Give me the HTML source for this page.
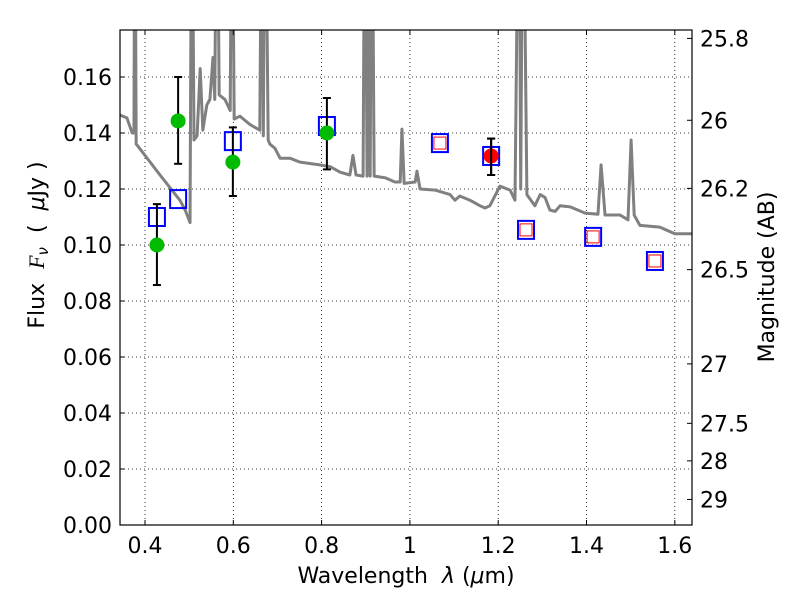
<!DOCTYPE html>
<html><head><meta charset="utf-8"><style>
body{margin:0;background:#fff;}
svg text{font-family:"DejaVu Sans","Liberation Sans",sans-serif;font-size:22px;fill:#000;}
</style></head><body>
<svg id="chart" width="800" height="600" viewBox="0 0 800 600" xmlns="http://www.w3.org/2000/svg">
<rect width="800" height="600" fill="#fff"/>
<g id="grid"></g>
<g id="spec"></g>
<g id="marks"></g>
<rect x="120" y="30" width="572" height="495" fill="none" stroke="#000" stroke-width="1.2"/>
<g id="axes"></g>
<text x="406" y="583" text-anchor="middle">Wavelength&#160;&#160;<tspan font-style="italic">λ</tspan>&#160;(<tspan font-style="italic">μ</tspan>m)</text>
<text transform="translate(44,245) rotate(-90)" text-anchor="middle">Flux&#160;&#160;<tspan font-style="italic" font-family="Liberation Serif">F</tspan><tspan font-style="italic" font-size="15" dy="4">ν</tspan><tspan dy="-4">&#160;&#160;(&#160;&#160;</tspan><tspan font-style="italic">μ</tspan>Jy&#160;)</text>
<text transform="translate(774,277) rotate(-90)" text-anchor="middle">Magnitude (AB)</text>
</svg>
<script>
const NS="http://www.w3.org/2000/svg";
const xTicks=[0.4,0.6,0.8,1.0,1.2,1.4,1.6];
const xTickLabels=["0.4","0.6","0.8","1","1.2","1.4","1.6"];
const yTicks=[0,0.02,0.04,0.06,0.08,0.10,0.12,0.14,0.16];
const yTickLabels=["0.00","0.02","0.04","0.06","0.08","0.10","0.12","0.14","0.16"];
const magTicks=[25.8,26,26.2,26.5,27,27.5,28,29];
const magTickLabels=["25.8","26","26.2","26.5","27","27.5","28","29"];
const specWl=[0.343,0.359,0.371,0.375,0.377,0.380,0.382,0.434,0.479,0.491,0.502,0.506,0.511,0.518,0.525,0.531,0.540,0.547,0.554,0.558,0.563,0.568,0.581,0.593,0.597,0.602,0.615,0.638,0.660,0.665,0.668,0.672,0.679,0.683,0.694,0.706,0.728,0.751,0.796,0.819,0.842,0.864,0.871,0.878,0.894,0.898,0.903,0.905,0.910,0.914,0.919,0.944,0.966,0.978,0.982,0.987,1.012,1.016,1.023,1.057,1.091,1.102,1.113,1.136,1.159,1.170,1.181,1.204,1.227,1.238,1.247,1.251,1.256,1.265,1.283,1.295,1.306,1.317,1.329,1.340,1.363,1.397,1.426,1.433,1.442,1.476,1.494,1.501,1.508,1.521,1.566,1.600,1.639];
const specFlux=[0.1464,0.1454,0.140,0.140,0.25,0.136,0.1357,0.125,0.116,0.1125,0.108,0.25,0.1375,0.139,0.163,0.141,0.150,0.152,0.167,0.152,0.25,0.1536,0.152,0.148,0.25,0.145,0.146,0.143,0.141,0.25,0.139,0.25,0.1375,0.136,0.1346,0.131,0.131,0.1296,0.1286,0.128,0.126,0.125,0.132,0.125,0.1246,0.25,0.1246,0.25,0.1246,0.25,0.1246,0.124,0.1225,0.1225,0.1414,0.122,0.1225,0.1264,0.120,0.1196,0.118,0.116,0.1175,0.116,0.114,0.1132,0.114,0.121,0.1196,0.116,0.25,0.12,0.25,0.118,0.114,0.118,0.117,0.1125,0.112,0.114,0.1136,0.1114,0.111,0.1286,0.1107,0.1107,0.109,0.1375,0.1107,0.107,0.1064,0.104,0.104];
const greenWl=[0.427,0.475,0.599,0.812];
const greenFlux=[0.100,0.1443,0.1296,0.140];
const greenHi=[0.1146,0.160,0.142,0.1525];
const greenLo=[0.0857,0.129,0.1175,0.127];
const redWl=[1.184];
const redFlux=[0.1318];
const redHi=[0.138];
const redLo=[0.125];
const blueSqWl=[0.427,0.475,0.599,0.812,1.068,1.184,1.263,1.415,1.555];
const blueSqFlux=[0.1100,0.1164,0.1371,0.1425,0.1364,0.1318,0.1054,0.1029,0.0943];
const redSqWl=[1.068,1.263,1.415,1.555];
const redSqFlux=[0.1364,0.1054,0.1029,0.0943];

const X0=120,X1=692,Y0=30,Y1=525;
function xs(v){return 145+(v-0.4)*441.5;}
function ys(v){return 525-v*2800;}
function magToFlux(m){return Math.pow(10,(23.9-m)/2.5);}
function mk(tag,attrs,parent){const e=document.createElementNS(NS,tag);for(const k in attrs)e.setAttribute(k,attrs[k]);parent.appendChild(e);return e;}
const grid=document.getElementById('grid'),axes=document.getElementById('axes'),spec=document.getElementById('spec'),marks=document.getElementById('marks');
xTicks.forEach((t,i)=>{const x=xs(t);
 const g=mk('line',{x1:x,x2:x,y1:Y0,y2:Y1,stroke:'#000','stroke-width':0.8,'stroke-dasharray':'1,3'},grid);
 
 
 mk('line',{x1:x,x2:x,y1:Y1,y2:Y1-5,stroke:'#000'},axes);
 mk('line',{x1:x,x2:x,y1:Y0,y2:Y0+5,stroke:'#000'},axes);
 const tx=mk('text',{x:x,y:Y1+28,'text-anchor':'middle'},axes);tx.textContent=xTickLabels[i];
 
 
});
yTicks.forEach((t,i)=>{const y=ys(t);
 const g=mk('line',{x1:X0,x2:X1,y1:y,y2:y,stroke:'#000','stroke-width':0.8,'stroke-dasharray':'1,3'},grid);
 
 
 mk('line',{x1:X0,x2:X0+5,y1:y,y2:y,stroke:'#000'},axes);
 const tx=mk('text',{x:X0-8,y:y+8,'text-anchor':'end'},axes);tx.textContent=yTickLabels[i];
 
 
});
magTicks.forEach((m,i)=>{const y=ys(magToFlux(m));
 mk('line',{x1:X1,x2:X1-5,y1:y,y2:y,stroke:'#000'},axes);
 const tx=mk('text',{x:X1+8,y:y+8,'text-anchor':'start'},axes);tx.textContent=magTickLabels[i];
 
 
});
const cp=mk('clipPath',{id:'clip'},document.getElementById('chart'));
mk('rect',{x:X0,y:Y0,width:X1-X0,height:Y1-Y0},cp);
spec.setAttribute('clip-path','url(#clip)');
const pl=mk('polyline',{points:specWl.map((w,i)=>xs(w)+','+ys(specFlux[i])).join(' '),fill:'none',stroke:'#808080','stroke-width':3,'stroke-linejoin':'round'},spec);


function errbar(w,lo,hi){const x=xs(w);
 mk('line',{x1:x,x2:x,y1:ys(hi),y2:ys(lo),stroke:'#000','stroke-width':2},marks);
 mk('line',{x1:x-4,x2:x+4,y1:ys(hi),y2:ys(hi),stroke:'#000','stroke-width':2},marks);
 mk('line',{x1:x-4,x2:x+4,y1:ys(lo),y2:ys(lo),stroke:'#000','stroke-width':2},marks);}
blueSqWl.forEach((w,i)=>{const s=mk('rect',{x:xs(w)-8,y:ys(blueSqFlux[i])-9,width:16,height:18,fill:'none',stroke:'#0000ff','stroke-width':2},marks);
 
 });
redSqWl.forEach((w,i)=>{const s=mk('rect',{x:xs(w)-6,y:ys(redSqFlux[i])-6,width:12,height:12,fill:'none',stroke:'#ff0000','stroke-width':1},marks);
 
 });
greenWl.forEach((w,i)=>{errbar(w,greenLo[i],greenHi[i]);
 const c=mk('circle',{cx:xs(w),cy:ys(greenFlux[i]),r:7.5,fill:'#00bb00'},marks);
 
 });
redWl.forEach((w,i)=>{errbar(w,redLo[i],redHi[i]);
 const c=mk('circle',{cx:xs(w),cy:ys(redFlux[i]),r:7.5,fill:'#ff0000'},marks);
 
 
 errbar(w,redLo[i],redHi[i]);});
</script>
</body></html>
